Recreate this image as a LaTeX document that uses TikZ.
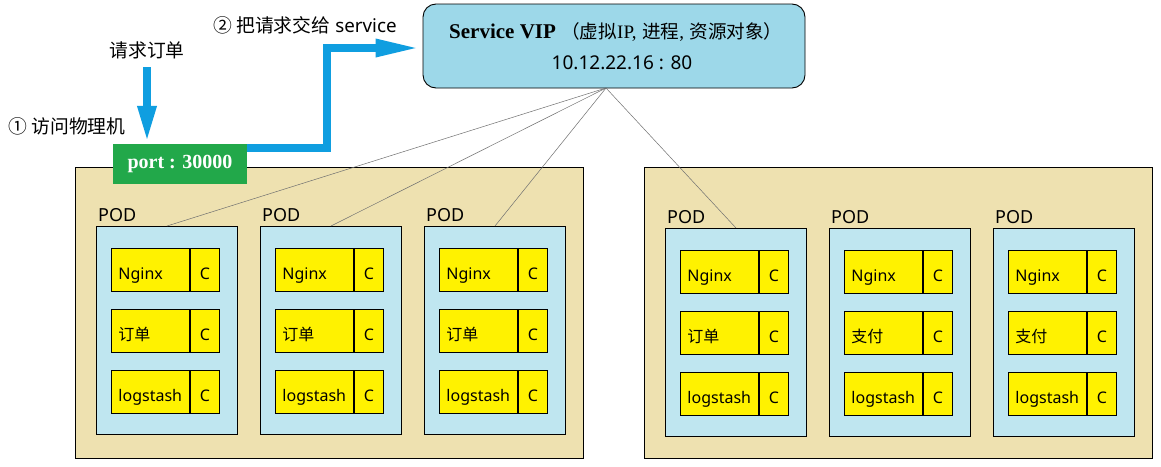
\documentclass[tikz,border=0pt]{standalone}
\usepackage{fontspec}
\setmainfont{Noto Sans}
\newfontfamily\cjk{Noto Sans CJK SC}
\newfontfamily\tnr{Liberation Serif}
\usetikzlibrary{arrows.meta}
\definecolor{hostfill}{HTML}{EEE1B0}
\definecolor{podfill}{HTML}{BFE6F0}
\definecolor{cyellow}{HTML}{FFF200}
\definecolor{vipfill}{HTML}{9DD8E9}
\definecolor{portgreen}{HTML}{22A84A}
\definecolor{arrowblue}{HTML}{0F9EE0}
\definecolor{linkgray}{HTML}{707070}
\newcommand\ctrbox[4]{%
  \node[cname, anchor=north west] (#1) at (#2,#3) {#4};
  \node[cpart, anchor=north west] (#1c) at (#1.north east) {C};
}
\newcommand\cjks[1]{{\fontsize{18.6}{22}\selectfont\cjk #1}}
\begin{document}
\begin{tikzpicture}[x=1pt,y=-1pt,
  host/.style={draw, line width=0.9pt, fill=hostfill, minimum width=508, minimum height=291, inner sep=0},
  pod/.style={draw, line width=1pt, fill=podfill, minimum width=141, minimum height=208, inner sep=0},
  podlabel/.style={font=\fontsize{18}{20}\selectfont, inner sep=0},
  cname/.style={draw, line width=0.9pt, fill=cyellow, minimum height=43, text width=64pt, text height=22pt, text depth=3pt, inner xsep=7pt, inner ysep=0, align=left, font=\fontsize{16}{18}\selectfont},
  cpart/.style={draw, line width=0.9pt, fill=cyellow, minimum width=29, minimum height=43, text height=22pt, text depth=3pt, inner sep=0, font=\fontsize{16}{18}\selectfont},
  link/.style={draw=linkgray, line width=0.5pt},
  bigarrow/.style={draw=arrowblue, line width=8.5pt},
  txt/.style={font=\fontsize{18.8}{22}\selectfont, inner sep=0},
  viptxt/.style={font=\fontsize{21}{24}\selectfont, inner sep=0}
]
\useasboundingbox (0,0) rectangle (1161,466);
\fill[white] (0,0) rectangle (1161,466);

% hosts
\node[host, anchor=north west] (hostL) at (75,167) {};
\node[host, anchor=north west] (hostR) at (644,167) {};

% service VIP
\node[draw, line width=0.9pt, fill=vipfill, rounded corners=13pt, minimum width=382, minimum height=84, inner sep=0] (vip) at (614,46) {};
\node[viptxt, anchor=base west] (vip1) at (449,38) {{\tnr\bfseries Service VIP} \cjks{（虚拟}{\tnr\fontsize{19}{22}\selectfont IP,} \cjks{进程}{\tnr\fontsize{19}{22}\selectfont ,} \cjks{资源对象）}};
\node[viptxt, font=\fontsize{19}{22}\selectfont] (vip2) at (622,63) {10.12.22.16 : 80};
\coordinate (vipfoot) at (606,88);

% pods
\foreach \n/\x/\y/\mid in {p1/96/226/订单, p2/260/226/订单, p3/424/226/订单, p4/665/228/订单, p5/829/228/支付, p6/993/228/支付}{
  \node[pod, anchor=north west] (\n) at (\x,\y) {};
  \node[podlabel, anchor=base west] (\n l) at ([xshift=2pt,yshift=5pt]\n.north west) {POD};
  \pgfmathsetmacro\cx{\x+15}
  \pgfmathsetmacro\ya{\y+22}
  \pgfmathsetmacro\yb{\y+83}
  \pgfmathsetmacro\yc{\y+144}
  \ctrbox{\n a}{\cx}{\ya}{Nginx}
  \ctrbox{\n b}{\cx}{\yb}{{\cjk \mid}}
  \ctrbox{\n c}{\cx}{\yc}{logstash}
}

% links from service to pods
\foreach \p in {p1,p2,p3,p4}{
  \draw[link] (vipfoot) -- (\p.north);
}

% port
\node[fill=portgreen, minimum width=134, minimum height=40, inner sep=0, text=white, font=\fontsize{20}{22}\selectfont\tnr\bfseries] (port) at (180,164) {port : 30000};

% texts
\node[txt] (req) at (147,50) {\cjk 请求订单};
\node[txt] (step1) at (67,126) {{\cjk ① 访问物理机}};
\node[txt] (step2) at (305,25) {{\cjk ② 把请求交给} service};
\coordinate (reqfoot) at (147,67);

% arrows
\draw[bigarrow, -{Triangle[length=38pt,width=17pt]}] (reqfoot) -- (port.north -| reqfoot);
\draw[bigarrow, -{Triangle[length=47pt,width=16pt]}] ([yshift=16pt]port.east) -- ++(80,0) |- ([yshift=-2pt]vip.west);
\end{tikzpicture}
\end{document}
